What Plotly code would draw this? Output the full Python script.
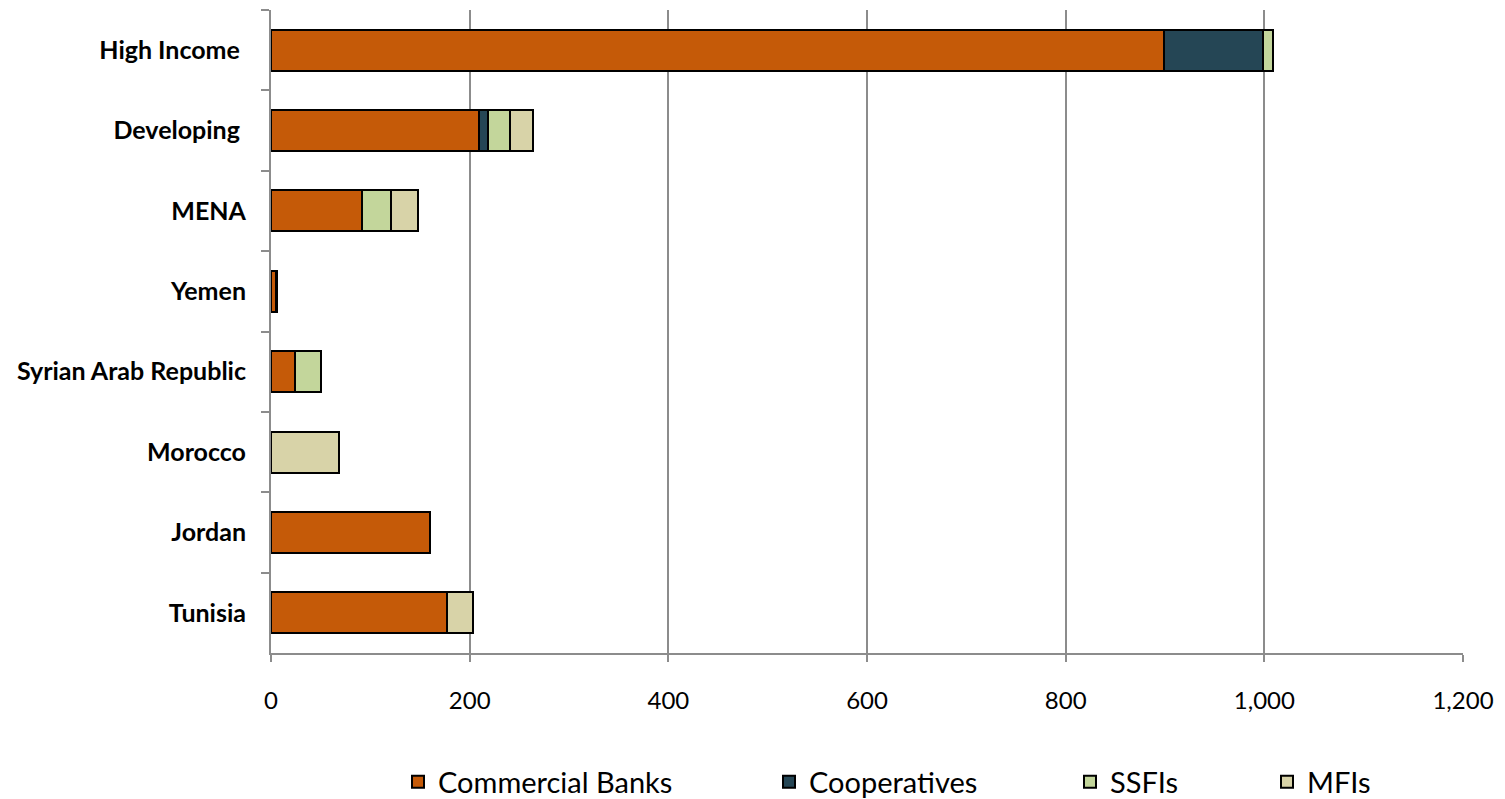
import plotly.graph_objects as go

regions = ["High Income ", "Developing ", "MENA", "Yemen", "Syrian Arab Republic",
           "Morocco", "Jordan", "Tunisia"]

commercial_banks = [899, 209, 92, 5, 24, 0, 160, 177]
cooperatives = [100, 9, 0, 1.5, 0, 0, 0, 0]
ssfis = [10, 23, 29, 0, 26, 0, 0, 0]
mfis = [0, 23, 27, 0, 0, 68, 0, 26]

x_ticks = [0, 200, 400, 600, 800, 1000, 1200]
x_tick_labels = ["0", "200", "400", "600", "800", "1,000", "1,200"]

# plot area in pixels (left, right, top, bottom)
PL, PR, PT, PB = 271, 1463, 10, 653
W, H = 1505, 799

series = [
    ("Commercial Banks", commercial_banks, "#C55A08", "legend", 438),
    ("Cooperatives", cooperatives, "#254655", "legend2", 809),
    ("SSFIs", ssfis, "#C3D69B", "legend3", 1110),
    ("MFIs", mfis, "#D8D3A8", "legend4", 1307),
]

fig = go.Figure()
legend_layouts = {}
for name, vals, color, leg, text_x in series:
    fig.add_trace(go.Bar(
        y=regions, x=vals, name=name, orientation="h",
        marker=dict(color=color, line=dict(color="#000000", width=2)),
        legend=leg, showlegend=True,
    ))
    legend_layouts[leg] = dict(
        x=(text_x - 40 - PL) / (PR - PL), xanchor="left",
        y=(PB - 782) / (PB - PT), yanchor="middle",
        orientation="h", font=dict(size=29, color="#000000"),
        bgcolor="rgba(0,0,0,0)", visible=True,
    )

fig.update_layout(
    barmode="stack",
    bargap=0.49,
    width=W, height=H,
    showlegend=True,
    margin=dict(l=PL, r=W - PR, t=PT, b=H - PB, autoexpand=False),
    plot_bgcolor="white", paper_bgcolor="white",
    font=dict(family="Lato, Carlito, sans-serif", color="#000000"),
    **legend_layouts,
)

fig.update_xaxes(
    range=[0, 1200], tickvals=x_ticks, ticktext=x_tick_labels,
    showgrid=True, gridcolor="#8C8C8C", gridwidth=2,
    showline=True, linecolor="#8C8C8C", linewidth=2,
    ticks="outside", ticklen=7, tickcolor="#8C8C8C", tickwidth=2,
    tickfont=dict(size=24), ticklabelstandoff=18, zeroline=False,
)
fig.update_yaxes(
    autorange="reversed", type="category", tickson="boundaries",
    showline=True, linecolor="#8C8C8C", linewidth=2,
    ticks="outside", ticklen=8, tickcolor="#8C8C8C", tickwidth=2,
    tickfont=dict(size=25, family="Lato, Carlito, sans-serif", weight="bold"),
    ticklabelstandoff=18, showgrid=False,
)

fig.write_html("out.html")
